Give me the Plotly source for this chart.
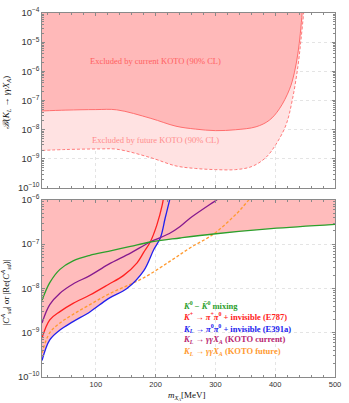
import plotly.graph_objects as go

# ---------------- data (top panel) ----------------
cur_x = [10, 50, 100, 135, 192, 234, 267, 300, 334, 368, 390, 407, 424, 432, 438, 442, 445, 446]
cur_y = [4.4e-8, 4.7e-8, 4.9e-8, 4.8e-8, 2.45e-8, 1.32e-8, 1.05e-8, 9.3e-9, 1.0e-8, 1.26e-8,
         2.1e-8, 5.2e-8, 2.45e-7, 8.9e-7, 4.2e-6, 2.0e-5, 1.0e-4, 2.0e-4]
fut_x = [10, 50, 107, 135, 192, 234, 267, 300, 334, 361, 384, 401, 418, 429, 438, 443, 447.5, 448.5]
fut_y = [1.95e-9, 2.1e-9, 2.2e-9, 2.15e-9, 1.1e-9, 5.75e-10, 4.7e-10, 4.3e-10, 4.3e-10, 5.5e-10,
         1.1e-9, 3.1e-9, 1.45e-8, 1.15e-7, 1.5e-6, 1.17e-5, 1.0e-4, 2.0e-4]

# ---------------- data (bottom panel) ----------------
mix_x = [10, 23, 40, 62, 90, 121, 158, 191, 241, 297, 393, 500]
mix_y = [5.4e-9, 1.35e-8, 2.7e-8, 4.2e-8, 5.6e-8, 6.9e-8, 8.9e-8, 1.12e-7, 1.38e-7, 1.7e-7, 2.24e-7, 2.8e-7]
e787_x = [10, 23, 40, 62, 90, 121, 146, 169, 180, 191, 202, 211, 215]
e787_y = [7.6e-10, 1.95e-9, 3.0e-9, 4.6e-9, 7.1e-9, 1.23e-8, 1.95e-8, 3.8e-8, 6.5e-8, 1.12e-7,
          2.7e-7, 7.6e-7, 1.6e-6]
e391_x = [10, 23, 40, 62, 90, 121, 152, 180, 197, 208, 216, 223.5, 227]
e391_y = [2.35e-10, 6.9e-10, 1.15e-9, 1.78e-9, 2.95e-9, 5.9e-9, 1.0e-8, 2.5e-8, 7.6e-8, 1.4e-7,
          3.9e-7, 1.0e-6, 1.6e-6]
kc_x = [10, 23, 40, 62, 90, 121, 158, 191, 223, 241, 258, 302, 310]
kc_y = [1.66e-9, 4.3e-9, 7.8e-9, 1.26e-8, 1.95e-8, 3.5e-8, 6.3e-8, 1.12e-7, 1.74e-7, 2.5e-7,
        3.9e-7, 1.0e-6, 1.2e-6]
kf_x = [10, 23, 40, 62, 90, 121, 180, 225, 258, 297, 336, 356, 362]
kf_y = [3.5e-10, 1.0e-9, 1.66e-9, 2.6e-9, 4.3e-9, 7.4e-9, 1.74e-8, 4.2e-8, 8.3e-8, 1.7e-7,
        5.0e-7, 1.0e-6, 1.2e-6]

x_ticks = [100, 200, 300, 400, 500]
legend_labels = [
    "<i>K</i><sup>0</sup> − <i>K̄</i><sup>0</sup> mixing",
    "<i>K</i><sup>+</sup> → <i>π</i><sup>+</sup><i>π</i><sup>0</sup> + invisible (E787)",
    "<i>K<sub>L</sub></i> → <i>π</i><sup>0</sup><i>π</i><sup>0</sup> + invisible (E391a)",
    "<i>K<sub>L</sub></i> → <i>γγX<sub>A</sub></i> (KOTO current)",
    "<i>K<sub>L</sub></i> → <i>γγX<sub>A</sub></i> (KOTO future)",
]

GREEN = "#2ca02c"
RED = "#ff2020"
BLUE = "#2020ee"
PURPLE = "#861a8e"
ORANGE = "#ff9a30"
FILL = "#ffbcbc"
SM = 1.0

fig = go.Figure()

def top_line(xaxis, yaxis, yv):
    fig.add_trace(go.Scatter(x=[10, 500], y=[yv, yv], mode="lines", line=dict(width=0),
                             hoverinfo="skip", showlegend=False, xaxis=xaxis, yaxis=yaxis))

# top panel: future region (light), then current region (darker)
top_line("x", "y", 3e-4)
fig.add_trace(go.Scatter(x=fut_x, y=fut_y, mode="lines", fill="tonexty", fillcolor="#ffe2e2",
                         line=dict(color="#ff7a7a", width=1, dash="3px,2px", shape="spline", smoothing=SM),
                         showlegend=False, xaxis="x", yaxis="y"))
top_line("x", "y", 3e-4)
fig.add_trace(go.Scatter(x=cur_x, y=cur_y, mode="lines", fill="tonexty", fillcolor="#ffb9b9",
                         line=dict(color="#ff6e6e", width=1, shape="spline", smoothing=SM),
                         showlegend=False, xaxis="x", yaxis="y"))

# bottom panel fills (union of excluded regions)
for cx, cy in [(mix_x, mix_y), (e787_x, e787_y), (e391_x, e391_y), (kc_x, kc_y)]:
    top_line("x2", "y2", 3e-6)
    fig.add_trace(go.Scatter(x=cx, y=cy, mode="lines", fill="tonexty", fillcolor=FILL,
                             line=dict(width=0, shape="spline", smoothing=SM),
                             hoverinfo="skip", showlegend=False, xaxis="x2", yaxis="y2"))

# bottom panel lines
for cx, cy, col, dash in [(kf_x, kf_y, ORANGE, "3px,2px"), (e391_x, e391_y, BLUE, "solid"),
                          (e787_x, e787_y, RED, "solid"), (kc_x, kc_y, PURPLE, "solid"),
                          (mix_x, mix_y, GREEN, "solid")]:
    fig.add_trace(go.Scatter(x=cx, y=cy, mode="lines",
                             line=dict(color=col, width=1.3, dash=dash, shape="spline", smoothing=SM),
                             showlegend=False, xaxis="x2", yaxis="y2"))

axis_common = dict(showline=True, linecolor="#8a8a8a", linewidth=1, mirror="ticks",
                   ticks="inside", tickcolor="#8a8a8a", ticklen=3,
                   showgrid=True, gridcolor="#e4e4e4", griddash="3px,3px", gridwidth=0.8,
                   zeroline=False, tickfont=dict(family="Liberation Sans", size=7.5, color="#333333"))

fig.update_layout(
    width=349, height=403,
    margin=dict(l=42, r=14, t=6, b=26),
    paper_bgcolor="white", plot_bgcolor="white",
    xaxis=dict(range=[10, 500], domain=[0, 1], anchor="y", tickvals=x_ticks, showticklabels=False,
               minor=dict(ticks="inside", ticklen=2, dtick=20, tickcolor="#8a8a8a", showgrid=False),
               **axis_common),
    yaxis=dict(type="log", range=[-10, -4], domain=[0.519, 1.0], anchor="x", dtick=1,
               exponentformat="power",
               minor=dict(ticks="inside", ticklen=2, tickcolor="#8a8a8a", showgrid=False),
               **axis_common),
    xaxis2=dict(range=[10, 500], domain=[0, 1], anchor="y2", tickvals=x_ticks,
                minor=dict(ticks="inside", ticklen=2, dtick=20, tickcolor="#8a8a8a", showgrid=False),
                **axis_common),
    yaxis2=dict(type="log", range=[-10, -6], domain=[0.0, 0.4865], anchor="x2", dtick=1,
                exponentformat="power",
                minor=dict(ticks="inside", ticklen=2, tickcolor="#8a8a8a", showgrid=False),
                **axis_common),
)

W, H, L, R, T, B = 349, 403, 42, 14, 6, 26
def px_x(v):
    return (v - L) / (W - L - R)
def px_y(v):
    return 1 - (v - T) / (H - T - B)

serif = "Liberation Serif"
ann = []
ann.append(dict(text="Excluded by current KOTO (90% CL)", x=200, y=-5.63, xref="x", yref="y",
                showarrow=False, font=dict(family=serif, size=8.5, color="#ff6060")))
ann.append(dict(text="Excluded by future KOTO (90% CL)", x=200, y=-8.34, xref="x", yref="y",
                showarrow=False, font=dict(family=serif, size=8.5, color="#ff8c8c")))
ann.append(dict(text="<i>ℬ</i>(<i>K<sub>L</sub></i> → <i>γγX<sub>A</sub></i>)",
                x=px_x(6), y=px_y(98), xref="paper", yref="paper", xanchor="center", yanchor="middle",
                showarrow=False, textangle=-90,
                font=dict(family=serif, size=9, color="#111111")))
ann.append(dict(text="|<i>C</i><sup><i>A</i></sup><sub><i>sd</i></sub>| or |Re(<i>C</i><sup><i>A</i></sup><sub><i>sd</i></sub>)|",
                x=px_x(6), y=px_y(291), xref="paper", yref="paper", xanchor="center", yanchor="middle",
                showarrow=False, textangle=-90,
                font=dict(family=serif, size=9, color="#111111")))
ann.append(dict(text="<i>m</i><sub><i>X<sub>A</sub></i></sub>[MeV]", x=px_x(187), y=px_y(396),
                xref="paper", yref="paper", xanchor="center", yanchor="middle", showarrow=False,
                font=dict(family=serif, size=9, color="#111111")))

leg_cols = [GREEN, RED, BLUE, "#b82470", ORANGE]
for i, (lab, col) in enumerate(zip(legend_labels, leg_cols)):
    ypx = 304 + i * 11.7
    ann.append(dict(text="<b>" + lab + "</b>", x=px_x(181), y=px_y(ypx),
                    xref="paper", yref="paper", xanchor="left", yanchor="middle", showarrow=False,
                    font=dict(family=serif, size=8.5, color=col)))
fig.update_layout(annotations=ann)

fig.write_html("out.html", config={"displayModeBar": False},
               post_script="document.body.style.margin='0';document.body.style.overflow='hidden';")
